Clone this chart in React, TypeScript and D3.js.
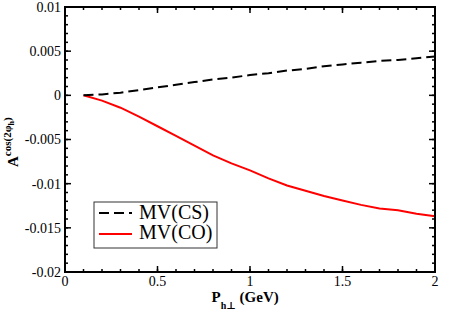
import React from "react";
import * as d3 from "d3";

const xs = [0.1, 0.2, 0.3, 0.4, 0.5, 0.6, 0.7, 0.8, 0.9, 1.0, 1.1, 1.2, 1.3, 1.4, 1.5, 1.6, 1.7, 1.8, 1.9, 2.0];
const csValues = [0, 0.0001, 0.0003, 0.0006, 0.0009, 0.0012, 0.0015, 0.0018, 0.002, 0.0023, 0.0025, 0.0028, 0.003, 0.0033, 0.0035, 0.0037, 0.0039, 0.004, 0.0042, 0.0044];
const coValues = [0, -0.0006, -0.0014, -0.0024, -0.0035, -0.0046, -0.0057, -0.0068, -0.0077, -0.0085, -0.0094, -0.0102, -0.0108, -0.0114, -0.0119, -0.0124, -0.0128, -0.013, -0.0134, -0.0137];
const xTicks = [0, 0.5, 1, 1.5, 2];
const xTickLabels = ["0", "0.5", "1", "1.5", "2"];
const yTicks = [0.01, 0.005, 0, -0.005, -0.01, -0.015, -0.02];
const yTickLabels = ["0.01", "0.005", "0", "-0.005", "-0.01", "-0.015", "-0.02"];
const seriesNames = ["MV(CS)", "MV(CO)"];

const L = 65, R = 435, T = 7, B = 272;
const FONT = "'Liberation Serif', 'DejaVu Serif', 'Times New Roman', serif";

export default function App() {
  const x = d3.scaleLinear().domain([0, 2]).range([L, R]);
  const y = d3.scaleLinear().domain([-0.02, 0.01]).range([B, T]);
  const line = d3.line<[number, number]>().x(d => x(d[0])).y(d => y(d[1]));
  const cs = xs.map((v, i) => [v, csValues[i]] as [number, number]);
  const co = xs.map((v, i) => [v, coValues[i]] as [number, number]);
  const xMinor = d3.range(0, 21).map(i => i * 0.1);
  const yMinor = d3.range(0, 31).map(i => -0.02 + i * 0.001);
  const ts = { fontFamily: FONT };
  return (
    <svg width={463} height={327} style={{ position: "absolute", left: 0, top: 0, fontFamily: FONT }}>
      <rect x={0} y={0} width={463} height={327} fill="white" />
      <path d={line(co) || ""} fill="none" stroke="#ff0000" strokeWidth={2} />
      <path d={line(cs) || ""} fill="none" stroke="#000" strokeWidth={2} strokeDasharray="10,5" />
      {xMinor.map((v, i) => (
        <g key={"xm" + i}>
          <line x1={x(v)} x2={x(v)} y1={B} y2={B - 3} stroke="#000" strokeWidth={1.5} />
          <line x1={x(v)} x2={x(v)} y1={T} y2={T + 3} stroke="#000" strokeWidth={1.5} />
        </g>
      ))}
      {yMinor.map((v, i) => (
        <g key={"ym" + i}>
          <line x1={L} x2={L + 3} y1={y(v)} y2={y(v)} stroke="#000" strokeWidth={1.5} />
          <line x1={R} x2={R - 3} y1={y(v)} y2={y(v)} stroke="#000" strokeWidth={1.5} />
        </g>
      ))}
      {xTicks.map((v, i) => (
        <g key={"xt" + i}>
          <line x1={x(v)} x2={x(v)} y1={B} y2={B - 6} stroke="#000" strokeWidth={1.5} />
          <line x1={x(v)} x2={x(v)} y1={T} y2={T + 6} stroke="#000" strokeWidth={1.5} />
          <text style={ts} x={x(v)} y={286} fontSize={14} textAnchor="middle">{xTickLabels[i]}</text>
        </g>
      ))}
      {yTicks.map((v, i) => (
        <g key={"yt" + i}>
          <line x1={L} x2={L + 6} y1={y(v)} y2={y(v)} stroke="#000" strokeWidth={1.5} />
          <line x1={R} x2={R - 6} y1={y(v)} y2={y(v)} stroke="#000" strokeWidth={1.5} />
          <text style={ts} x={61} y={y(v)} dy="0.35em" fontSize={14} textAnchor="end">{yTickLabels[i]}</text>
        </g>
      ))}
      <rect x={L} y={T} width={R - L} height={B - T} fill="none" stroke="#000" strokeWidth={2} />
      <g>
        <rect x={94} y={202} width={123} height={46} fill="white" stroke="#333" strokeWidth={1} />
        <line x1={99} x2={132} y1={213} y2={213} stroke="#000" strokeWidth={2} strokeDasharray="10,5" />
        <text style={ts} x={139} y={218.5} fontSize={20}>{seriesNames[0]}</text>
        <line x1={99} x2={132} y1={234} y2={234} stroke="#ff0000" strokeWidth={2} />
        <text style={ts} x={139} y={239} fontSize={20}>{seriesNames[1]}</text>
      </g>
      <text style={ts} x={211.5} y={301.7} fontWeight="bold" fontSize={15}>
        P
        <tspan fontSize={10} dy={7}>h⊥</tspan>
        <tspan fontSize={15} dy={-7}> (GeV)</tspan>
      </text>
      <text style={ts} transform="translate(17.5,167) rotate(-90)" fontWeight="bold" fontSize={15}>
        A
        <tspan fontSize={11} dy={-7}>cos(2φ</tspan>
        <tspan fontSize={8} dy={3}>h</tspan>
        <tspan fontSize={11} dy={-3}>)</tspan>
      </text>
    </svg>
  );
}
